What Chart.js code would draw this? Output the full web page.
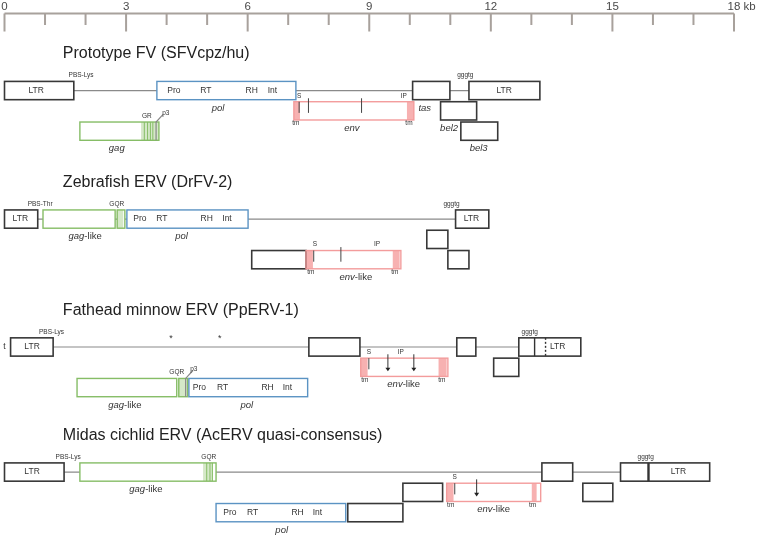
<!DOCTYPE html>
<html>
<head>
<meta charset="utf-8">
<script src="https://cdn.jsdelivr.net/npm/chart.js@4.4.1/dist/chart.umd.min.js"></script>
<style>
  html, body { margin: 0; padding: 0; background: #fff; }
  #wrap { width: 760px; height: 536px; }
</style>
</head>
<body>
<div id="wrap"><canvas id="genomeChart" width="760" height="536"></canvas></div>
<script>
// Ruler (kb)
const rulerMajor = [0, 3, 6, 9, 12, 15, 18];
const rulerLabels = ['0', '3', '6', '9', '12', '15', '18 kb'];
const rulerMinor = [1, 2, 4, 5, 7, 8, 10, 11, 13, 14, 16, 17];

// One entry per genome
const genomeTitles = [
  'Prototype FV (SFVcpz/hu)',
  'Zebrafish ERV (DrFV-2)',
  'Fathead minnow ERV (PpERV-1)',
  'Midas cichlid ERV (AcERV quasi-consensus)'
];
const genomeRows = [4.46, 10.79, 17.09, 23.25];           // main track of each genome
const backbones = [[0, 13.21], [0, 11.95], [0.15, 14.22], [0, 17.40]];

// Boxes: [track, start kb, end kb, kind]
const pfvBoxes = [
  [0, 0.00, 1.71, 'ltr'], [0, 3.76, 7.19, 'pol'], [0, 10.07, 10.99, 'orf'], [0, 11.46, 13.21, 'ltr'],
  [1, 7.14, 10.10, 'env'], [1, 10.76, 11.65, 'orf'],
  [2, 1.86, 3.81, 'gag'], [2, 11.26, 12.17, 'orf']
];
const drfvBoxes = [
  [0, 0.00, 0.82, 'ltr'], [0, 0.95, 2.73, 'gag'], [0, 2.78, 2.97, 'gag'], [0, 3.02, 6.01, 'pol'], [0, 11.13, 11.95, 'ltr'],
  [1, 10.42, 10.94, 'orf'],
  [2, 6.10, 7.44, 'orf'], [2, 7.44, 9.78, 'env'], [2, 10.94, 11.46, 'orf']
];
const pperBoxes = [
  [0, 0.15, 1.20, 'ltr'], [0, 7.51, 8.77, 'orf'], [0, 11.16, 11.63, 'orf'], [0, 12.69, 14.22, 'ltr'],
  [1, 8.79, 10.94, 'env'], [1, 12.07, 12.69, 'orf'],
  [2, 1.79, 4.25, 'gag'], [2, 4.30, 4.52, 'gag'], [2, 4.55, 7.48, 'pol']
];
const acervBoxes = [
  [0, 0.00, 1.47, 'ltr'], [0, 1.86, 5.22, 'gag'], [0, 13.26, 14.02, 'orf'], [0, 15.20, 17.40, 'ltr'],
  [1, 9.83, 10.81, 'orf'], [1, 10.91, 13.23, 'env'], [1, 14.27, 15.01, 'orf'],
  [2, 5.22, 8.42, 'pol'], [2, 8.47, 9.83, 'orf']
];

// Shaded parts inside boxes: [track, start kb, end kb, kind]
const pfvFills = [[1, 7.14, 7.29, 'tm'], [1, 9.93, 10.10, 'tm'], [2, 3.37, 3.80, 'nc']];
const drfvFills = [[0, 2.78, 2.93, 'nc'], [2, 7.44, 7.61, 'tm'], [2, 9.58, 9.75, 'tm']];
const pperFills = [[1, 8.79, 8.96, 'tm'], [1, 10.71, 10.91, 'tm'], [2, 4.30, 4.52, 'nc']];
const acervFills = [[0, 4.90, 5.13, 'nc'], [1, 10.91, 11.08, 'tm'], [1, 13.01, 13.13, 'tm']];

// Marks: [track, kb, kind]
const pfvMarks = [
  [1, 7.27, 'S'], [1, 7.50, 'site'], [1, 8.81, 'site'],
  [2, 3.45, 'nc'], [2, 3.53, 'nc'], [2, 3.60, 'nc'], [2, 3.66, 'nc'], [2, 3.74, 'p3']
];
const drfvMarks = [[2, 7.63, 'S'], [2, 8.30, 'site']];
const pperMarks = [
  [0, 13.08, 'div'], [0, 13.35, 'dash'],
  [1, 8.99, 'S'], [1, 9.46, 'arrow'], [1, 10.10, 'arrow'],
  [2, 4.47, 'p3']
];
const acervMarks = [
  [0, 4.99, 'nc'], [0, 5.07, 'nc'], [0, 5.13, 'nc'], [0, 15.89, 'thick'],
  [1, 11.11, 'S'], [1, 11.65, 'arrow']
];

// Labels: [track, kb, kind, text]
const pfvLabels = [
  [0, 0.78, 'in', 'LTR'], [0, 4.18, 'in', 'Pro'], [0, 4.97, 'in', 'RT'], [0, 6.10, 'in', 'RH'], [0, 6.61, 'in', 'Int'],
  [0, 12.33, 'in', 'LTR'],
  [0, 1.89, 'top', 'PBS-Lys'], [0, 11.37, 'top', 'gggtg'],
  [0, 5.27, 'name', 'pol'], [0, 10.37, 'name', 'tas'],
  [1, 7.27, 'top', 'S'], [1, 9.85, 'top', 'IP'], [1, 7.19, 'tm', 'tm'], [1, 9.98, 'tm', 'tm'],
  [1, 8.57, 'name', 'env'], [1, 10.97, 'name', 'bel2'],
  [2, 3.51, 'top', 'GR'], [2, 3.98, 'p3', 'p3'],
  [2, 2.77, 'name', 'gag'], [2, 11.70, 'name', 'bel3']
];
const drfvLabels = [
  [0, 0.39, 'in', 'LTR'], [0, 3.34, 'in', 'Pro'], [0, 3.88, 'in', 'RT'], [0, 4.99, 'in', 'RH'], [0, 5.49, 'in', 'Int'],
  [0, 11.52, 'in', 'LTR'],
  [0, 0.88, 'top', 'PBS-Thr'], [0, 2.77, 'top', 'GQR'], [0, 11.03, 'top', 'gggtg'],
  [0, 1.99, 'name', 'gag-like'], [0, 4.37, 'name', 'pol'],
  [2, 7.66, 'top', 'S'], [2, 9.19, 'top', 'IP'], [2, 7.56, 'tm', 'tm'], [2, 9.63, 'tm', 'tm'],
  [2, 8.67, 'name', 'env-like']
];
const pperLabels = [
  [0, 0.00, 'in', 't'], [0, 0.68, 'in', 'LTR'], [0, 13.65, 'in', 'LTR'],
  [0, 1.16, 'top', 'PBS-Lys'], [0, 12.96, 'top', 'gggtg'],
  [0, 4.11, 'star', '*'], [0, 5.31, 'star', '*'],
  [1, 8.99, 'top', 'S'], [1, 9.78, 'top', 'IP'], [1, 8.89, 'tm', 'tm'], [1, 10.79, 'tm', 'tm'],
  [1, 9.85, 'name', 'env-like'],
  [2, 4.81, 'in', 'Pro'], [2, 5.38, 'in', 'RT'], [2, 6.49, 'in', 'RH'], [2, 6.98, 'in', 'Int'],
  [2, 4.25, 'top', 'GQR'], [2, 4.67, 'p3', 'p3'],
  [2, 2.97, 'name', 'gag-like'], [2, 5.98, 'name', 'pol']
];
const acervLabels = [
  [0, 0.68, 'in', 'LTR'], [0, 16.63, 'in', 'LTR'],
  [0, 1.57, 'top', 'PBS-Lys'], [0, 5.04, 'top', 'GQR'], [0, 15.82, 'top', 'gggtg'],
  [0, 3.49, 'name', 'gag-like'],
  [1, 11.11, 'top', 'S'], [1, 11.01, 'tm', 'tm'], [1, 13.03, 'tm', 'tm'],
  [1, 12.07, 'name', 'env-like'],
  [2, 5.56, 'in', 'Pro'], [2, 6.12, 'in', 'RT'], [2, 7.23, 'in', 'RH'], [2, 7.72, 'in', 'Int'],
  [2, 6.84, 'name', 'pol']
];

const allBoxes = [pfvBoxes, drfvBoxes, pperBoxes, acervBoxes];
const allFills = [pfvFills, drfvFills, pperFills, acervFills];
const allMarks = [pfvMarks, drfvMarks, pperMarks, acervMarks];
const allLabels = [pfvLabels, drfvLabels, pperLabels, acervLabels];

// Styling
const FONT = '"Liberation Sans", Arial, Helvetica, sans-serif';
const strokeColors = { ltr: '#383838', orf: '#383838', gag: '#86bd66', pol: '#5b93c3', env: '#f39c9c' };
const fillColors = { tm: '#f7b1b1', nc: '#d5e8c8' };
const HALF = 0.45;        // half box height, in track units
const labelDy = { in: 0, top: -0.74, tm: 0.62, name: 0.86, star: -0.42, p3: -0.9 };

const genomePlugin = {
  id: 'genomeMap',
  afterDraw: function (chart) {
    const ctx = chart.ctx;
    const xs = chart.scales.x, ys = chart.scales.y;
    const X = function (v) { return xs.getPixelForValue(v); };
    const Y = function (v) { return ys.getPixelForValue(v); };
    ctx.save();

    // ruler
    ctx.strokeStyle = '#a8a19c';
    ctx.lineWidth = 2;
    ctx.beginPath();
    ctx.moveTo(X(0), Y(0.66));
    ctx.lineTo(X(18), Y(0.66));
    rulerMinor.forEach(function (k) { ctx.moveTo(X(k), Y(0.66)); ctx.lineTo(X(k), Y(1.23)); });
    rulerMajor.forEach(function (k) { ctx.moveTo(X(k), Y(0.66)); ctx.lineTo(X(k), Y(1.55)); });
    ctx.stroke();
    ctx.fillStyle = '#4a4a4a';
    ctx.font = '11.5px ' + FONT;
    ctx.textBaseline = 'middle';
    rulerMajor.forEach(function (k, i) {
      const txt = rulerLabels[i];
      const num = txt.split(' ')[0];
      ctx.textAlign = 'left';
      ctx.fillText(txt, Math.max(1, X(k) - ctx.measureText(num).width / 2), Y(0.34));
    });

    genomeTitles.forEach(function (title, g) {
      const base = genomeRows[g];
      const rowY = function (t) { return base + t; };

      // title
      ctx.fillStyle = '#222';
      ctx.font = '16px ' + FONT;
      ctx.textAlign = 'left';
      ctx.textBaseline = 'middle';
      ctx.fillText(title, X(1.44), Y(base - 1.8));

      // backbone
      ctx.strokeStyle = '#8a8a8a';
      ctx.lineWidth = 1.2;
      ctx.beginPath();
      ctx.moveTo(X(backbones[g][0]), Y(base));
      ctx.lineTo(X(backbones[g][1]), Y(base));
      ctx.stroke();

      // box backgrounds
      allBoxes[g].forEach(function (b) {
        ctx.fillStyle = '#fff';
        ctx.fillRect(X(b[1]), Y(rowY(b[0]) - HALF), X(b[2]) - X(b[1]), Y(rowY(b[0]) + HALF) - Y(rowY(b[0]) - HALF));
      });
      // shaded parts
      allFills[g].forEach(function (f) {
        ctx.fillStyle = fillColors[f[3]];
        ctx.fillRect(X(f[1]), Y(rowY(f[0]) - HALF), X(f[2]) - X(f[1]), Y(rowY(f[0]) + HALF) - Y(rowY(f[0]) - HALF));
      });
      // outlines
      allBoxes[g].forEach(function (b) {
        ctx.strokeStyle = strokeColors[b[3]];
        ctx.lineWidth = (b[3] === 'ltr' || b[3] === 'orf') ? 1.6 : 1.4;
        ctx.strokeRect(X(b[1]), Y(rowY(b[0]) - HALF), X(b[2]) - X(b[1]), Y(rowY(b[0]) + HALF) - Y(rowY(b[0]) - HALF));
      });

      // marks
      allMarks[g].forEach(function (m) {
        const x = X(m[1]), c = rowY(m[0]);
        ctx.setLineDash([]);
        ctx.beginPath();
        if (m[2] === 'S' || m[2] === 'site') {
          ctx.strokeStyle = '#444';
          ctx.lineWidth = 1;
          ctx.moveTo(x, Y(c + (m[2] === 'S' ? -HALF : -0.62)));
          ctx.lineTo(x, Y(c + 0.1));
        } else if (m[2] === 'arrow') {
          ctx.strokeStyle = '#333';
          ctx.lineWidth = 1;
          ctx.moveTo(x, Y(c - 0.64));
          ctx.lineTo(x, Y(c + 0.1));
          ctx.stroke();
          ctx.fillStyle = '#222';
          ctx.beginPath();
          ctx.moveTo(x - 2.5, Y(c + 0.02));
          ctx.lineTo(x + 2.5, Y(c + 0.02));
          ctx.lineTo(x, Y(c + 0.2));
          ctx.closePath();
          ctx.fill();
          return;
        } else if (m[2] === 'nc') {
          ctx.strokeStyle = strokeColors.gag;
          ctx.lineWidth = 1;
          ctx.moveTo(x, Y(c - HALF));
          ctx.lineTo(x, Y(c + HALF));
        } else if (m[2] === 'p3') {
          ctx.strokeStyle = '#888';
          ctx.lineWidth = 1.2;
          ctx.moveTo(x, Y(c + HALF));
          ctx.lineTo(x, Y(c - HALF));
          ctx.lineTo(X(m[1] + 0.18), Y(c - 0.84));
        } else {
          ctx.strokeStyle = '#333';
          ctx.lineWidth = m[2] === 'thick' ? 2.4 : 1.4;
          if (m[2] === 'dash') ctx.setLineDash([2, 2]);
          ctx.moveTo(x, Y(c - HALF));
          ctx.lineTo(x, Y(c + HALF));
        }
        ctx.stroke();
        ctx.setLineDash([]);
      });

      // labels
      allLabels[g].forEach(function (l) {
        const x = X(l[1]), y = Y(rowY(l[0]) + labelDy[l[2]]);
        ctx.fillStyle = '#333';
        ctx.textBaseline = 'middle';
        if (l[2] === 'name') {
          // gene name in italics, "-like" suffix upright
          const parts = l[3].split('-');
          const f = '9.5px ' + FONT;
          ctx.font = 'italic ' + f;
          const w1 = ctx.measureText(parts[0]).width;
          ctx.font = f;
          const rest = parts.length > 1 ? '-' + parts[1] : '';
          const w2 = ctx.measureText(rest).width;
          const x0 = x - (w1 + w2) / 2;
          ctx.textAlign = 'left';
          ctx.font = 'italic ' + f;
          ctx.fillText(parts[0], x0, y);
          ctx.font = f;
          ctx.fillText(rest, x0 + w1, y);
          return;
        }
        ctx.textAlign = 'center';
        if (l[2] === 'in') ctx.font = '8.5px ' + FONT;
        else if (l[2] === 'star') ctx.font = '9px ' + FONT;
        else ctx.font = '6.5px ' + FONT;
        ctx.fillText(l[3], x, y);
      });
    });
    ctx.restore();
  }
};

new Chart(document.getElementById('genomeChart').getContext('2d'), {
  type: 'scatter',
  data: { datasets: [] },
  options: {
    responsive: false,
    animation: false,
    layout: { padding: { left: 4.5, right: 26, top: 0, bottom: 0 } },
    plugins: { legend: { display: false }, tooltip: { enabled: false } },
    scales: {
      x: { type: 'linear', min: 0, max: 18, display: false },
      y: { type: 'linear', min: 0, max: 26.4, reverse: true, display: false }
    }
  },
  plugins: [genomePlugin]
});
</script>
</body>
</html>
